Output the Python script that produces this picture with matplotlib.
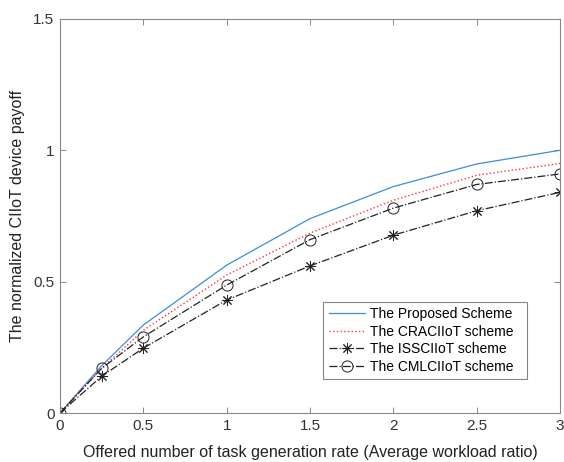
import matplotlib.pyplot as plt

plt.rcParams['font.family'] = ['Liberation Sans', 'DejaVu Sans']

rate = [0, 0.25, 0.5, 1, 1.5, 2, 2.5, 3]

proposed = [0, 0.18, 0.335, 0.563, 0.74, 0.862, 0.948, 1.0]
craciiot = [0, 0.17, 0.315, 0.525, 0.685, 0.81, 0.905, 0.95]
issciiot = [0, 0.14, 0.247, 0.43, 0.56, 0.677, 0.77, 0.84]
cmlciiot = [0, 0.17, 0.29, 0.487, 0.66, 0.78, 0.87, 0.91]

labels = ["The Proposed Scheme", "The CRACIIoT scheme",
          "The ISSCIIoT scheme", "The CMLCIIoT scheme"]

fig = plt.figure(figsize=(5.64, 4.62), dpi=100)
ax = fig.add_axes([0.1064, 0.106, 0.8866, 0.853])

ax.plot(rate, proposed, color="#3A8FD8", linewidth=0.9, label=labels[0])
ax.plot(rate, craciiot, color="#FF3333", linestyle=":", linewidth=1.0, label=labels[1])
ax.plot(rate, issciiot, color="#222222", linestyle="-.", linewidth=0.9,
        marker=(8, 2, 0), markersize=8, markeredgewidth=0.7, label=labels[2])
ax.plot(rate, cmlciiot, color="#222222", linestyle="-.", linewidth=0.9,
        marker="o", markersize=8, markerfacecolor="none", markeredgewidth=0.7,
        label=labels[3])

ax.set_xlim(0, 3)
ax.set_ylim(0, 1.5)
ax.set_xticks([0, 0.5, 1, 1.5, 2, 2.5, 3])
ax.set_xticklabels(["0", "0.5", "1", "1.5", "2", "2.5", "3"])
ax.set_yticks([0, 0.5, 1, 1.5])
ax.set_yticklabels(["0", "0.5", "1", "1.5"])

for s in ax.spines.values():
    s.set_color("#888888")
    s.set_linewidth(0.8)
ax.tick_params(direction="in", top=True, right=True, length=4, width=0.7,
               color="#888888", labelsize=11, labelcolor="#333333", pad=4)

ax.set_xlabel("Offered number of task generation rate (Average workload ratio)",
              fontsize=11.5, color="#222222", labelpad=9)
ax.set_ylabel("The normalized CIIoT device payoff", fontsize=11.5,
              color="#222222", labelpad=6)

leg = ax.legend(loc="lower left", bbox_to_anchor=(0.526, 0.086, 0.408, 0.203),
                mode="expand", fontsize=10, frameon=True, fancybox=False,
                edgecolor="#666666", handlelength=2.6, borderpad=0.4,
                labelspacing=0.25, handletextpad=0.4, borderaxespad=0)
leg.get_frame().set_linewidth(0.8)

fig.savefig("out.png", dpi=100)
